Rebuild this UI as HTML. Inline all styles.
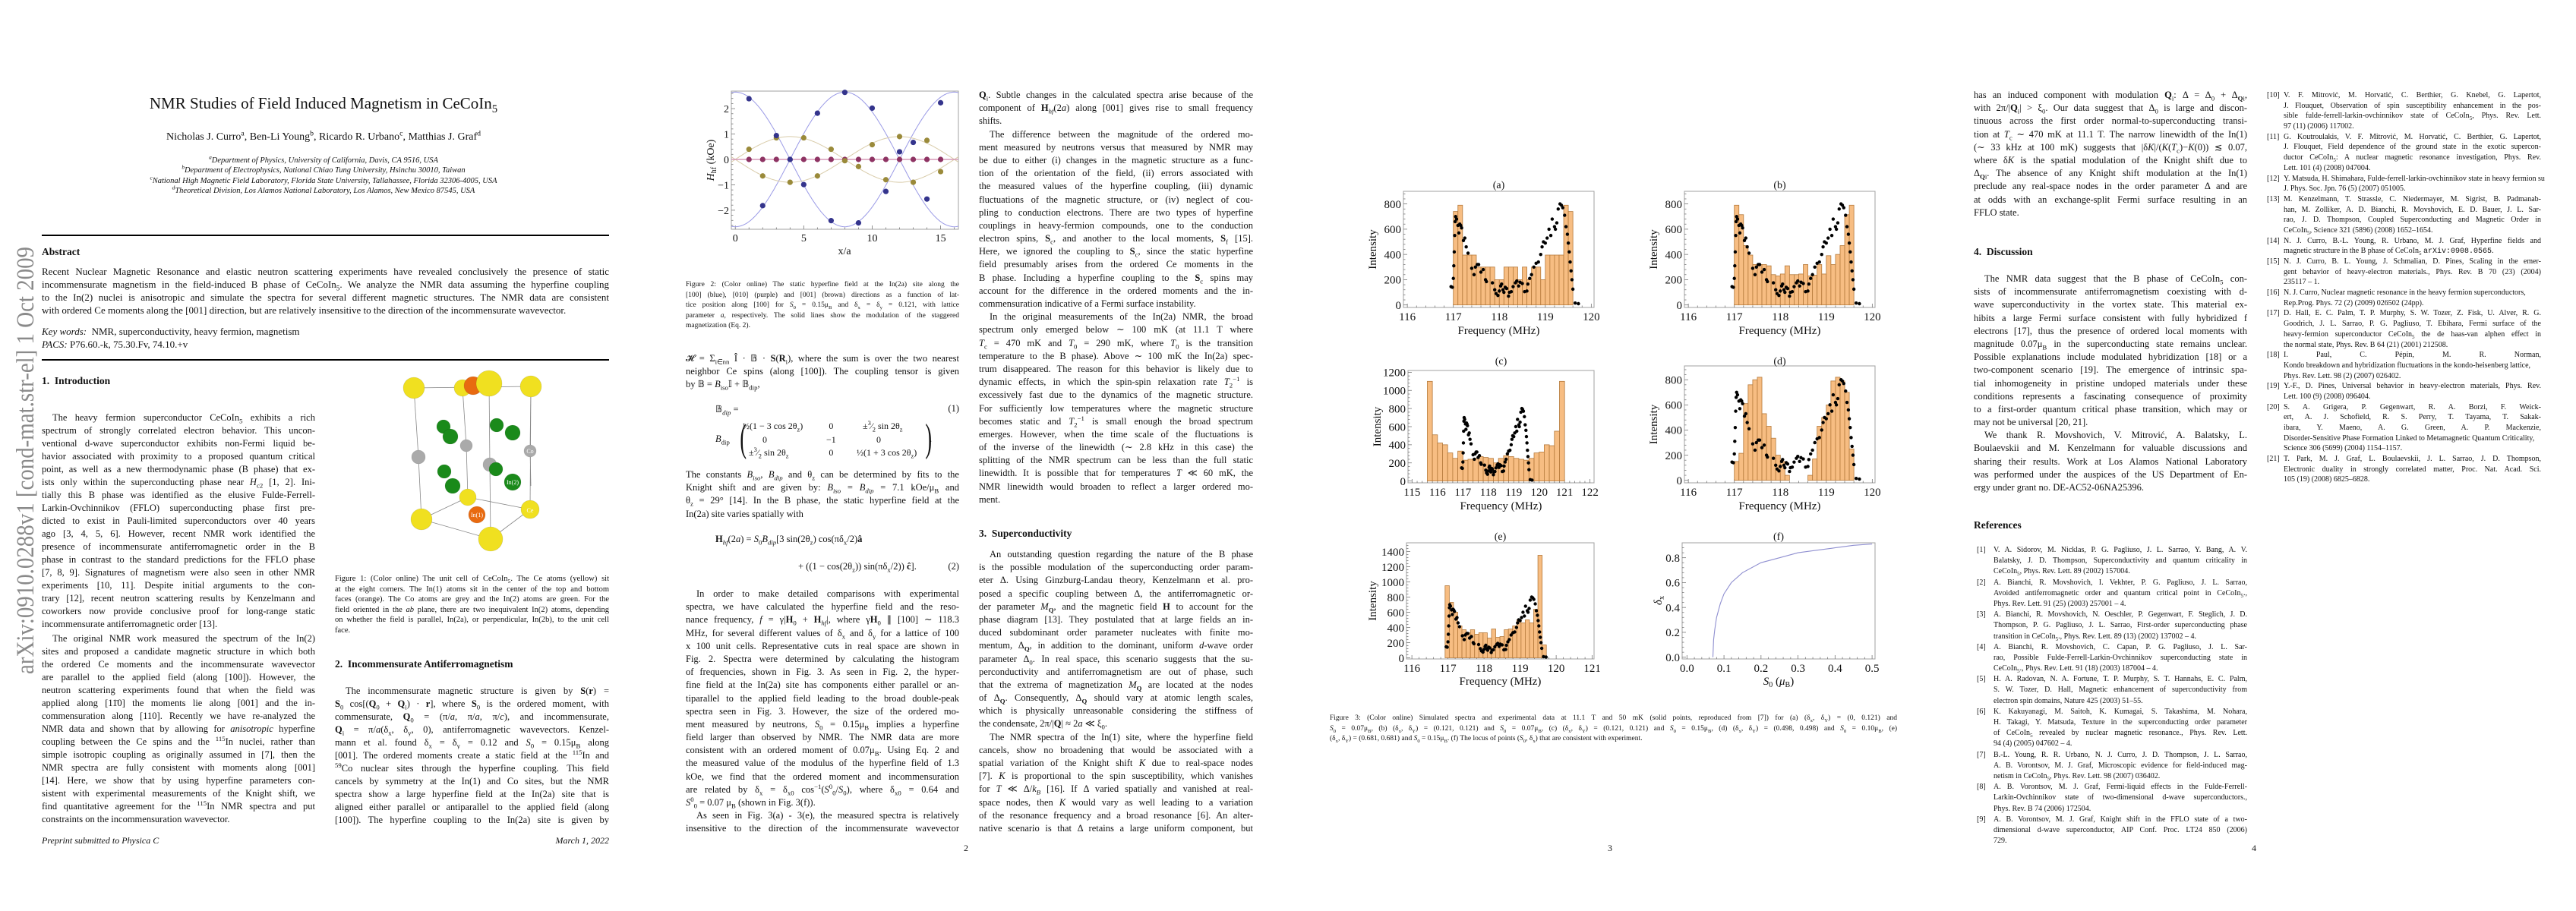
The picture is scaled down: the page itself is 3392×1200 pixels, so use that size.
<!DOCTYPE html>
<html><head><meta charset="utf-8">
<style>
html,body{margin:0;padding:0;background:#fff}
body{width:3392px;height:1200px;position:relative;overflow:hidden;font-family:"Liberation Serif",serif;color:#111}
.pg{position:absolute;top:0;width:848px;height:1200px}
.blk{position:absolute;font-family:"Liberation Serif",serif;color:#111;font-size:12.5px}
.blk>div{height:17px;line-height:17px;white-space:nowrap;text-align:justify;text-align-last:justify;overflow:hidden}
.blk>div.e{text-align-last:left}
.blk>div.i{text-indent:14px}
.b2>div{height:17.2px;line-height:17.2px}
.cap{font-size:10.5px}
.cap>div{height:13.6px;line-height:13.6px}
.ref{font-size:10px}
.ref>div{height:14.2px;line-height:14.2px}
.refr>div{height:13.7px;line-height:13.7px}
.ref>div{padding-left:26px;position:relative}
.ref>div span.n{position:absolute;left:4px}
.h{position:absolute;font-weight:bold;font-size:13.5px;white-space:nowrap}
.rule{position:absolute;height:1.5px;background:#000}
.c{position:absolute;white-space:nowrap;transform:translateX(-50%)}
sub,sup{font-size:70%;line-height:0}
</style></head>
<body>

<svg style="position:absolute;left:0;top:0" width="70" height="1200">
<text x="0" y="0" transform="translate(44,888) rotate(-90)" font-family="Liberation Serif, serif" font-size="33" fill="#8a8a8a" textLength="563" lengthAdjust="spacingAndGlyphs">arXiv:0910.0288v1  [cond-mat.str-el]  1 Oct 2009</text>
</svg>

<!-- PAGE 1 -->
<div class="pg" style="left:0">
<div class="c" style="left:426px;top:124px;font-size:21px">NMR Studies of Field Induced Magnetism in CeCoIn<sub>5</sub></div>
<div class="c" style="left:426px;top:173px;font-size:14px">Nicholas J. Curro<sup>a</sup>, Ben-Li Young<sup>b</sup>, Ricardo R. Urbano<sup>c</sup>, Matthias J. Graf<sup>d</sup></div>
<div class="c" style="left:426px;top:205px;font-size:10.5px;font-style:italic;line-height:13.4px;text-align:center">
<div><sup>a</sup>Department of Physics, University of California, Davis, CA 9516, USA</div>
<div><sup>b</sup>Department of Electrophysics, National Chiao Tung University, Hsinchu 30010, Taiwan</div>
<div><sup>c</sup>National High Magnetic Field Laboratory, Florida State University, Tallahassee, Florida 32306-4005, USA</div>
<div><sup>d</sup>Theoretical Division, Los Alamos National Laboratory, Los Alamos, New Mexico 87545, USA</div>
</div>
<div class="rule" style="left:55px;top:309px;width:747px"></div>
<div class="h" style="left:55px;top:324px">Abstract</div>
<div class="blk" style="left:55px;top:349px;width:747px;font-size:13px">
<div>Recent Nuclear Magnetic Resonance and elastic neutron scattering experiments have revealed conclusively the presence of static</div>
<div>incommensurate magnetism in the field-induced B phase of CeCoIn<sub>5</sub>. We analyze the NMR data assuming the hyperfine coupling</div>
<div>to the In(2) nuclei is anisotropic and simulate the spectra for several different magnetic structures. The NMR data are consistent</div>
<div class="e">with ordered Ce moments along the [001] direction, but are relatively insensitive to the direction of the incommensurate wavevector.</div>
</div>
<div class="blk" style="left:55px;top:428px;width:747px;font-size:13px">
<div class="e"><i>Key words:</i> &nbsp;NMR, superconductivity, heavy fermion, magnetism</div>
<div class="e"><i>PACS:</i> P76.60.-k, 75.30.Fv, 74.10.+v</div>
</div>
<div class="rule" style="left:55px;top:473px;width:747px"></div>
<div class="h" style="left:55px;top:494px">1.&nbsp; Introduction</div>
<div class="blk" style="left:55px;top:542px;width:360px">
<div class="i">The heavy fermion superconductor CeCoIn<sub>5</sub> exhibits a rich</div>
<div>spectrum of strongly correlated electron behavior. This uncon-</div>
<div>ventional d-wave superconductor exhibits non-Fermi liquid be-</div>
<div>havior associated with proximity to a proposed quantum critical</div>
<div>point, as well as a new thermodynamic phase (B phase) that ex-</div>
<div>ists only within the superconducting phase near <i>H</i><sub>c2</sub> [1, 2]. Ini-</div>
<div>tially this B phase was identified as the elusive Fulde-Ferrell-</div>
<div>Larkin-Ovchinnikov (FFLO) superconducting phase first pre-</div>
<div>dicted to exist in Pauli-limited superconductors over 40 years</div>
<div>ago [3, 4, 5, 6]. However, recent NMR work identified the</div>
<div>presence of incommensurate antiferromagnetic order in the B</div>
<div>phase in contrast to the standard predictions for the FFLO phase</div>
<div>[7, 8, 9]. Signatures of magnetism were also seen in other NMR</div>
<div>experiments [10, 11]. Despite initial arguments to the con-</div>
<div>trary [12], recent neutron scattering results by Kenzelmann and</div>
<div>coworkers now provide conclusive proof for long-range static</div>
<div class="e">incommensurate antiferromagnetic order [13].</div>
</div>
<div class="blk" style="left:55px;top:833px;width:360px">
<div class="i">The original NMR work measured the spectrum of the In(2)</div>
<div>sites and proposed a candidate magnetic structure in which both</div>
<div>the ordered Ce moments and the incommensurate wavevector</div>
<div>are parallel to the applied field (along [100]). However, the</div>
<div>neutron scattering experiments found that when the field was</div>
<div>applied along [11̄0] the moments lie along [001] and the in-</div>
<div>commensuration along [110]. Recently we have re-analyzed the</div>
<div>NMR data and shown that by allowing for <i>anisotropic</i> hyperfine</div>
<div>coupling between the Ce spins and the <sup>115</sup>In nuclei, rather than</div>
<div>simple isotropic coupling as originally assumed in [7], then the</div>
<div>NMR spectra are fully consistent with moments along [001]</div>
<div>[14]. Here, we show that by using hyperfine parameters con-</div>
<div>sistent with experimental measurements of the Knight shift, we</div>
<div>find quantitative agreement for the <sup>115</sup>In NMR spectra and put</div>
<div class="e">constraints on the incommensuration wavevector.</div>
</div>
<div class="blk cap" style="left:441px;top:756px;width:361px">
<div>Figure 1: (Color online) The unit cell of CeCoIn<sub>5</sub>. The Ce atoms (yellow) sit</div>
<div>at the eight corners. The In(1) atoms sit in the center of the top and bottom</div>
<div>faces (orange). The Co atoms are grey and the In(2) atoms are green. For the</div>
<div>field oriented in the <i>ab</i> plane, there are two inequivalent In(2) atoms, depending</div>
<div>on whether the field is parallel, In(2a), or perpendicular, In(2b), to the unit cell</div>
<div class="e">face.</div>
</div>
<div class="h" style="left:441px;top:867px">2.&nbsp; Incommensurate Antiferromagnetism</div>
<div class="blk" style="left:441px;top:902px;width:361px">
<div class="i">The incommensurate magnetic structure is given by <b>S</b>(<b>r</b>) =</div>
<div><b>S</b><sub>0</sub> cos[(<b>Q</b><sub>0</sub> + <b>Q</b><sub>i</sub>) · <b>r</b>], where <b>S</b><sub>0</sub> is the ordered moment, with</div>
<div>commensurate, <b>Q</b><sub>0</sub> = (π/<i>a</i>, π/<i>a</i>, π/<i>c</i>), and incommensurate,</div>
<div><b>Q</b><sub>i</sub> = π/<i>a</i>(δ<sub>x</sub>, δ<sub>y</sub>, 0), antiferromagnetic wavevectors. Kenzel-</div>
<div>mann et al. found δ<sub>x</sub> = δ<sub>y</sub> = 0.12 and <i>S</i><sub>0</sub> = 0.15μ<sub>B</sub> along</div>
<div>[001]. The ordered moments create a static field at the <sup>115</sup>In and</div>
<div><sup>59</sup>Co nuclear sites through the hyperfine coupling. This field</div>
<div>cancels by symmetry at the In(1) and Co sites, but the NMR</div>
<div>spectra show a large hyperfine field at the In(2a) site that is</div>
<div>aligned either parallel or antiparallel to the applied field (along</div>
<div>[100]). The hyperfine coupling to the In(2a) site is given by</div>
</div>
<div style="position:absolute;left:55px;top:1100px;font-size:12px;font-style:italic">Preprint submitted to Physica C</div>
<div style="position:absolute;right:46px;top:1100px;font-size:12px;font-style:italic">March 1, 2022</div>
</div>

<!-- PAGE 2 -->
<div class="pg" style="left:848px">
<div class="blk cap" style="left:55px;top:369px;width:360px;font-size:9.5px">
<div>Figure 2: (Color online) The static hyperfine field at the In(2a) site along the</div>
<div>[100] (blue), [010] (purple) and [001] (brown) directions as a function of lat-</div>
<div>tice position along [100] for <i>S</i><sub>0</sub> = 0.15μ<sub>B</sub> and δ<sub>x</sub> = δ<sub>y</sub> = 0.121, with lattice</div>
<div>parameter <i>a</i>, respectively. The solid lines show the modulation of the staggered</div>
<div class="e">magnetization (Eq. 2).</div>
</div>
<div class="blk b2" style="left:55px;top:464px;width:360px">
<div>𝓗 = Σ<sub>i∈nn</sub> Î · 𝔹 · <b>S</b>(<b>R</b><sub>i</sub>), where the sum is over the two nearest</div>
<div>neighbor Ce spins (along [100]). The coupling tensor is given</div>
<div class="e">by 𝔹 = <i>B</i><sub>iso</sub>𝕀 + 𝔹<sub>dip</sub>,</div>
</div>
<div style="position:absolute;left:94px;top:531px;font-size:12.5px">𝔹<sub><i>dip</i></sub> =</div>
<div style="position:absolute;right:433px;top:531px;font-size:12.5px">(1)</div>
<div style="position:absolute;left:94px;top:571px;font-size:12.5px"><i>B</i><sub>dip</sub></div>
<div style="position:absolute;left:122px;top:548px;font-size:52px;line-height:60px;transform:scaleX(0.5);font-weight:100">(</div>
<div style="position:absolute;left:366px;top:548px;font-size:52px;line-height:60px;transform:scaleX(0.5);font-weight:100">)</div>
<div style="position:absolute;left:130px;top:553px;font-size:12px;line-height:17.5px"><div>½(1 − 3 cos 2θ<sub>z</sub>)</div><div style="padding-left:26px">0</div><div style="padding-left:8px">±<sup>3</sup>⁄<sub>2</sub> sin 2θ<sub>z</sub></div></div>
<div style="position:absolute;left:240px;top:553px;font-size:12px;line-height:17.5px;text-align:center"><div>0</div><div>−1</div><div>0</div></div>
<div style="position:absolute;left:280px;top:553px;font-size:12px;line-height:17.5px"><div style="padding-left:8px">±<sup>3</sup>⁄<sub>2</sub> sin 2θ<sub>z</sub></div><div style="padding-left:26px">0</div><div>½(1 + 3 cos 2θ<sub>z</sub>)</div></div>
<div style="position:absolute;left:376px;top:571px;font-size:12.5px">.</div>
<div class="blk b2" style="left:55px;top:617px;width:360px">
<div>The constants <i>B<sub>iso</sub></i>, <i>B<sub>dip</sub></i> and θ<sub>z</sub> can be determined by fits to the</div>
<div>Knight shift and are given by: <i>B<sub>iso</sub></i> = <i>B<sub>dip</sub></i> = 7.1 kOe/μ<sub>B</sub> and</div>
<div>θ<sub>z</sub> = 29° [14]. In the B phase, the static hyperfine field at the</div>
<div class="e">In(2a) site varies spatially with</div>
</div>
<div style="position:absolute;left:94px;top:703px;font-size:12.5px"><b>H</b><sub><i>hf</i></sub>(2<i>a</i>) = <i>S</i><sub>0</sub><i>B<sub>dip</sub></i>[3 sin(2θ<sub>z</sub>) cos(πδ<sub>x</sub>/2)<b>â</b></div>
<div style="position:absolute;left:203px;top:739px;font-size:12.5px">+ ((1 − cos(2θ<sub>z</sub>)) sin(πδ<sub>x</sub>/2)) <b>ĉ</b>].</div>
<div style="position:absolute;right:433px;top:739px;font-size:12.5px">(2)</div>
<div class="blk b2" style="left:55px;top:774px;width:360px">
<div class="i">In order to make detailed comparisons with experimental</div>
<div>spectra, we have calculated the hyperfine field and the reso-</div>
<div>nance frequency, <i>f</i> = γ|<b>H</b><sub>0</sub> + <b>H</b><sub><i>hf</i></sub>|, where γ<b>H</b><sub>0</sub> ∥ [100] ∼ 118.3</div>
<div>MHz, for several different values of δ<sub>x</sub> and δ<sub>y</sub> for a lattice of 100</div>
<div>x 100 unit cells. Representative cuts in real space are shown in</div>
<div>Fig. 2. Spectra were determined by calculating the histogram</div>
<div>of frequencies, shown in Fig. 3. As seen in Fig. 2, the hyper-</div>
<div>fine field at the In(2a) site has components either parallel or an-</div>
<div>tiparallel to the applied field leading to the broad double-peak</div>
<div>spectra seen in Fig. 3. However, the size of the ordered mo-</div>
<div>ment measured by neutrons, <i>S</i><sub>0</sub> = 0.15μ<sub>B</sub> implies a hyperfine</div>
<div>field larger than observed by NMR. The NMR data are more</div>
<div>consistent with an ordered moment of 0.07μ<sub>B</sub>. Using Eq. 2 and</div>
<div>the measured value of the modulus of the hyperfine field of 1.3</div>
<div>kOe, we find that the ordered moment and incommensuration</div>
<div>are related by δ<sub>x</sub> = δ<sub>x0</sub> cos<sup>−1</sup>(<i>S</i><sup>0</sup><sub>0</sub>/<i>S</i><sub>0</sub>), where δ<sub>x0</sub> = 0.64 and</div>
<div class="e"><i>S</i><sup>0</sup><sub>0</sub> = 0.07 μ<sub>B</sub> (shown in Fig. 3(f)).</div>
<div class="i">As seen in Fig. 3(a) - 3(e), the measured spectra is relatively</div>
<div>insensitive to the direction of the incommensurate wavevector</div>
</div>
<div class="blk b2" style="left:441px;top:117px;width:361px">
<div><b>Q</b><sub>i</sub>. Subtle changes in the calculated spectra arise because of the</div>
<div>component of <b>H</b><sub><i>hf</i></sub>(2<i>a</i>) along [001] gives rise to small frequency</div>
<div class="e">shifts.</div>
<div class="i">The difference between the magnitude of the ordered mo-</div>
<div>ment measured by neutrons versus that measured by NMR may</div>
<div>be due to either (i) changes in the magnetic structure as a func-</div>
<div>tion of the orientation of the field, (ii) errors associated with</div>
<div>the measured values of the hyperfine coupling, (iii) dynamic</div>
<div>fluctuations of the magnetic structure, or (iv) neglect of cou-</div>
<div>pling to conduction electrons. There are two types of hyperfine</div>
<div>couplings in heavy-fermion compounds, one to the conduction</div>
<div>electron spins, <b>S</b><sub>c</sub>, and another to the local moments, <b>S</b><sub>f</sub> [15].</div>
<div>Here, we ignored the coupling to <b>S</b><sub>c</sub>, since the static hyperfine</div>
<div>field presumably arises from the ordered Ce moments in the</div>
<div>B phase. Including a hyperfine coupling to the <b>S</b><sub>c</sub> spins may</div>
<div>account for the difference in the ordered moments and the in-</div>
<div class="e">commensuration indicative of a Fermi surface instability.</div>
<div class="i">In the original measurements of the In(2a) NMR, the broad</div>
<div>spectrum only emerged below ∼ 100 mK (at 11.1 T where</div>
<div><i>T</i><sub>c</sub> = 470 mK and <i>T</i><sub>0</sub> = 290 mK, where <i>T</i><sub>0</sub> is the transition</div>
<div>temperature to the B phase). Above ∼ 100 mK the In(2a) spec-</div>
<div>trum disappeared. The reason for this behavior is likely due to</div>
<div>dynamic effects, in which the spin-spin relaxation rate <i>T</i><sub>2</sub><sup>−1</sup> is</div>
<div>excessively fast due to the dynamics of the magnetic structure.</div>
<div>For sufficiently low temperatures where the magnetic structure</div>
<div>becomes static and <i>T</i><sub>2</sub><sup>−1</sup> is small enough the broad spectrum</div>
<div>emerges. However, when the time scale of the fluctuations is</div>
<div>of the inverse of the linewidth (∼ 2.8 kHz in this case) the</div>
<div>splitting of the NMR spectrum can be less than the full static</div>
<div>linewidth. It is possible that for temperatures <i>T</i> ≪ 60 mK, the</div>
<div>NMR linewidth would broaden to reflect a larger ordered mo-</div>
<div class="e">ment.</div>
</div>
<div class="h" style="left:441px;top:695px">3.&nbsp; Superconductivity</div>
<div class="blk b2" style="left:441px;top:722px;width:361px">
<div class="i">An outstanding question regarding the nature of the B phase</div>
<div>is the possible modulation of the superconducting order param-</div>
<div>eter Δ. Using Ginzburg-Landau theory, Kenzelmann et al. pro-</div>
<div>posed a specific coupling between Δ, the antiferromagnetic or-</div>
<div>der parameter <i>M</i><sub><b>Q</b></sub>, and the magnetic field <b>H</b> to account for the</div>
<div>phase diagram [13]. They postulated that at large fields an in-</div>
<div>duced subdominant order parameter nucleates with finite mo-</div>
<div>mentum, Δ<sub><b>Q</b></sub>, in addition to the dominant, uniform <i>d</i>-wave order</div>
<div>parameter Δ<sub>0</sub>. In real space, this scenario suggests that the su-</div>
<div>perconductivity and antiferromagnetism are out of phase, such</div>
<div>that the extrema of magnetization <i>M</i><sub><b>Q</b></sub> are located at the nodes</div>
<div>of Δ<sub><b>Q</b></sub>. Consequently, Δ<sub><b>Q</b></sub> should vary at atomic length scales,</div>
<div>which is physically unreasonable considering the stiffness of</div>
<div class="e">the condensate, 2π/|<b>Q</b>| ≈ 2<i>a</i> ≪ ξ<sub>0</sub>.</div>
<div class="i">The NMR spectra of the In(1) site, where the hyperfine field</div>
<div>cancels, show no broadening that would be associated with a</div>
<div>spatial variation of the Knight shift <i>K</i> due to real-space nodes</div>
<div>[7]. <i>K</i> is proportional to the spin susceptibility, which vanishes</div>
<div>for <i>T</i> ≪ Δ/<i>k<sub>B</sub></i> [16]. If Δ varied spatially and vanished at real-</div>
<div>space nodes, then <i>K</i> would vary as well leading to a variation</div>
<div>of the resonance frequency and a broad resonance [6]. An alter-</div>
<div>native scenario is that Δ retains a large uniform component, but</div>
</div>
<div class="c" style="left:424px;top:1110px;font-size:12px">2</div>
</div>

<!-- PAGE 3 -->
<div class="pg" style="left:1696px">
<div class="blk cap" style="left:55px;top:940px;width:747px;font-size:9.5px">
<div>Figure 3: (Color online) Simulated spectra and experimental data at 11.1 T and 50 mK (solid points, reproduced from [7]) for (a) (δ<sub>x</sub>, δ<sub>Y</sub>) = (0, 0.121) and</div>
<div><i>S</i><sub>0</sub> = 0.07μ<sub>B</sub>, (b) (δ<sub>x</sub>, δ<sub>Y</sub>) = (0.121, 0.121) and <i>S</i><sub>0</sub> = 0.07μ<sub>B</sub>, (c) (δ<sub>x</sub>, δ<sub>Y</sub>) = (0.121, 0.121) and <i>S</i><sub>0</sub> = 0.15μ<sub>B</sub>, (d) (δ<sub>x</sub>, δ<sub>Y</sub>) = (0.498, 0.498) and <i>S</i><sub>0</sub> = 0.10μ<sub>B</sub>, (e)</div>
<div class="e">(δ<sub>x</sub>, δ<sub>Y</sub>) = (0.681, 0.681) and <i>S</i><sub>0</sub> = 0.15μ<sub>B</sub>. (f) The locus of points (<i>S</i><sub>0</sub>, δ<sub>x</sub>) that are consistent with experiment.</div>
</div>
<div class="c" style="left:424px;top:1110px;font-size:12px">3</div>
</div>

<!-- PAGE 4 -->
<div class="pg" style="left:2544px">
<div class="blk b2" style="left:55px;top:117px;width:360px">
<div>has an induced component with modulation <b>Q</b><sub>i</sub>: Δ = Δ<sub>0</sub> + Δ<sub><b>Q</b>i</sub>,</div>
<div>with 2π/|<b>Q</b><sub>i</sub>| &gt; ξ<sub>0</sub>. Our data suggest that Δ<sub>0</sub> is large and discon-</div>
<div>tinuous across the first order normal-to-superconducting transi-</div>
<div>tion at <i>T</i><sub>c</sub> ∼ 470 mK at 11.1 T. The narrow linewidth of the In(1)</div>
<div>(∼ 33 kHz at 100 mK) suggests that |δ<i>K</i>|/(<i>K</i>(<i>T</i><sub>c</sub>)−<i>K</i>(0)) ≲ 0.07,</div>
<div>where δ<i>K</i> is the spatial modulation of the Knight shift due to</div>
<div>Δ<sub><b>Q</b>i</sub>. The absence of any Knight shift modulation at the In(1)</div>
<div>preclude any real-space nodes in the order parameter Δ and are</div>
<div>at odds with an exchange-split Fermi surface resulting in an</div>
<div class="e">FFLO state.</div>
</div>
<div class="h" style="left:55px;top:324px">4.&nbsp; Discussion</div>
<div class="blk b2" style="left:55px;top:359px;width:360px">
<div class="i">The NMR data suggest that the B phase of CeCoIn<sub>5</sub> con-</div>
<div>sists of incommensurate antiferromagnetism coexisting with d-</div>
<div>wave superconductivity in the vortex state. This material ex-</div>
<div>hibits a large Fermi surface consistent with fully hybridized f</div>
<div>electrons [17], thus the presence of ordered local moments with</div>
<div>magnitude 0.07μ<sub>B</sub> in the superconducting state remains unclear.</div>
<div>Possible explanations include modulated hybridization [18] or a</div>
<div>two-component scenario [19]. The emergence of intrinsic spa-</div>
<div>tial inhomogeneity in pristine undoped materials under these</div>
<div>conditions represents a fascinating consequence of proximity</div>
<div>to a first-order quantum critical phase transition, which may or</div>
<div class="e">may not be universal [20, 21].</div>
<div class="i">We thank R. Movshovich, V. Mitrović, A. Balatsky, L.</div>
<div>Boulaevskii and M. Kenzelmann for valuable discussions and</div>
<div>sharing their results. Work at Los Alamos National Laboratory</div>
<div>was performed under the auspices of the US Department of En-</div>
<div class="e">ergy under grant no. DE-AC52-06NA25396.</div>
</div>
<div class="h" style="left:55px;top:684px">References</div>
<div class="blk ref" style="left:55px;top:718px;width:360px">
<div><span class="n">[1]</span>V. A. Sidorov, M. Nicklas, P. G. Pagliuso, J. L. Sarrao, Y. Bang, A. V.</div>
<div>Balatsky, J. D. Thompson, Superconductivity and quantum criticality in</div>
<div class="e">CeCoIn<sub>5</sub>, Phys. Rev. Lett. 89 (2002) 157004.</div>
<div><span class="n">[2]</span>A. Bianchi, R. Movshovich, I. Vekhter, P. G. Pagliuso, J. L. Sarrao,</div>
<div>Avoided antiferromagnetic order and quantum critical point in CeCoIn<sub>5</sub>.,</div>
<div class="e">Phys. Rev. Lett. 91 (25) (2003) 257001 – 4.</div>
<div><span class="n">[3]</span>A. Bianchi, R. Movshovich, N. Oeschler, P. Gegenwart, F. Steglich, J. D.</div>
<div>Thompson, P. G. Pagliuso, J. L. Sarrao, First-order superconducting phase</div>
<div class="e">transition in CeCoIn<sub>5</sub>., Phys. Rev. Lett. 89 (13) (2002) 137002 – 4.</div>
<div><span class="n">[4]</span>A. Bianchi, R. Movshovich, C. Capan, P. G. Pagliuso, J. L. Sar-</div>
<div>rao, Possible Fulde-Ferrell-Larkin-Ovchinnikov superconducting state in</div>
<div class="e">CeCoIn<sub>5</sub>., Phys. Rev. Lett. 91 (18) (2003) 187004 – 4.</div>
<div><span class="n">[5]</span>H. A. Radovan, N. A. Fortune, T. P. Murphy, S. T. Hannahs, E. C. Palm,</div>
<div>S. W. Tozer, D. Hall, Magnetic enhancement of superconductivity from</div>
<div class="e">electron spin domains, Nature 425 (2003) 51–55.</div>
<div><span class="n">[6]</span>K. Kakuyanagi, M. Saitoh, K. Kumagai, S. Takashima, M. Nohara,</div>
<div>H. Takagi, Y. Matsuda, Texture in the superconducting order parameter</div>
<div>of CeCoIn<sub>5</sub> revealed by nuclear magnetic resonance., Phys. Rev. Lett.</div>
<div class="e">94 (4) (2005) 047602 – 4.</div>
<div><span class="n">[7]</span>B.-L. Young, R. R. Urbano, N. J. Curro, J. D. Thompson, J. L. Sarrao,</div>
<div>A. B. Vorontsov, M. J. Graf, Microscopic evidence for field-induced mag-</div>
<div class="e">netism in CeCoIn<sub>5</sub>, Phys. Rev. Lett. 98 (2007) 036402.</div>
<div><span class="n">[8]</span>A. B. Vorontsov, M. J. Graf, Fermi-liquid effects in the Fulde-Ferrell-</div>
<div>Larkin-Ovchinnikov state of two-dimensional d-wave superconductors.,</div>
<div class="e">Phys. Rev. B 74 (2006) 172504.</div>
<div><span class="n">[9]</span>A. B. Vorontsov, M. J. Graf, Knight shift in the FFLO state of a two-</div>
<div>dimensional d-wave superconductor, AIP Conf. Proc. LT24 850 (2006)</div>
<div class="e">729.</div>
</div>
<div class="blk ref refr" style="left:437px;top:119px;width:365px">
<div><span class="n">[10]</span>V. F. Mitrović, M. Horvatić, C. Berthier, G. Knebel, G. Lapertot,</div>
<div>J. Flouquet, Observation of spin susceptibility enhancement in the pos-</div>
<div>sible fulde-ferrell-larkin-ovchinnikov state of CeCoIn<sub>5</sub>, Phys. Rev. Lett.</div>
<div class="e">97 (11) (2006) 117002.</div>
<div><span class="n">[11]</span>G. Koutroulakis, V. F. Mitrović, M. Horvatić, C. Berthier, G. Lapertot,</div>
<div>J. Flouquet, Field dependence of the ground state in the exotic supercon-</div>
<div>ductor CeCoIn<sub>5</sub>: A nuclear magnetic resonance investigation, Phys. Rev.</div>
<div class="e">Lett. 101 (4) (2008) 047004.</div>
<div class="e" style="overflow:visible"><span class="n">[12]</span>Y. Matsuda, H. Shimahara, Fulde-ferrell-larkin-ovchinnikov state in heavy fermion su</div>
<div class="e">J. Phys. Soc. Jpn. 76 (5) (2007) 051005.</div>
<div><span class="n">[13]</span>M. Kenzelmann, T. Strassle, C. Niedermayer, M. Sigrist, B. Padmanab-</div>
<div>han, M. Zolliker, A. D. Bianchi, R. Movshovich, E. D. Bauer, J. L. Sar-</div>
<div>rao, J. D. Thompson, Coupled Superconducting and Magnetic Order in</div>
<div class="e">CeCoIn<sub>5</sub>, Science 321 (5896) (2008) 1652–1654.</div>
<div><span class="n">[14]</span>N. J. Curro, B.-L. Young, R. Urbano, M. J. Graf, Hyperfine fields and</div>
<div class="e">magnetic structure in the B phase of CeCoIn<sub>5</sub> <span style="font-family:'Liberation Mono',monospace">arXiv:0908.0565</span>.</div>
<div><span class="n">[15]</span>N. J. Curro, B. L. Young, J. Schmalian, D. Pines, Scaling in the emer-</div>
<div>gent behavior of heavy-electron materials., Phys. Rev. B 70 (23) (2004)</div>
<div class="e">235117 – 1.</div>
<div class="e"><span class="n">[16]</span>N. J. Curro, Nuclear magnetic resonance in the heavy fermion superconductors,</div>
<div class="e">Rep.Prog. Phys. 72 (2) (2009) 026502 (24pp).</div>
<div><span class="n">[17]</span>D. Hall, E. C. Palm, T. P. Murphy, S. W. Tozer, Z. Fisk, U. Alver, R. G.</div>
<div>Goodrich, J. L. Sarrao, P. G. Pagliuso, T. Ebihara, Fermi surface of the</div>
<div>heavy-fermion superconductor CeCoIn<sub>5</sub> the de haas-van alphen effect in</div>
<div class="e">the normal state, Phys. Rev. B 64 (21) (2001) 212508.</div>
<div><span class="n">[18]</span>I. Paul, C. Pépin, M. R. Norman,</div>
<div class="e">Kondo breakdown and hybridization fluctuations in the kondo-heisenberg lattice,</div>
<div class="e">Phys. Rev. Lett. 98 (2) (2007) 026402.</div>
<div><span class="n">[19]</span>Y.-F., D. Pines, Universal behavior in heavy-electron materials, Phys. Rev.</div>
<div class="e">Lett. 100 (9) (2008) 096404.</div>
<div><span class="n">[20]</span>S. A. Grigera, P. Gegenwart, R. A. Borzi, F. Weick-</div>
<div>ert, A. J. Schofield, R. S. Perry, T. Tayama, T. Sakak-</div>
<div>ibara, Y. Maeno, A. G. Green, A. P. Mackenzie,</div>
<div class="e">Disorder-Sensitive Phase Formation Linked to Metamagnetic Quantum Criticality,</div>
<div class="e">Science 306 (5699) (2004) 1154–1157.</div>
<div><span class="n">[21]</span>T. Park, M. J. Graf, L. Boulaevskii, J. L. Sarrao, J. D. Thompson,</div>
<div>Electronic duality in strongly correlated matter, Proc. Nat. Acad. Sci.</div>
<div class="e">105 (19) (2008) 6825–6828.</div>
</div>
<div class="c" style="left:424px;top:1110px;font-size:12px">4</div>
</div>

<svg id="figs" width="3392" height="1200" style="position:absolute;left:0;top:0;pointer-events:none" font-family="Liberation Serif, serif"></svg>

<script>
// ---------- Figure 2 data ----------
const fig2X = [1,2,3,4,5,6,7,8,9,10,11,12,13,14,15];
const fig2Blue = [2.39,-1.82,0.94,0,-0.99,1.82,-2.41,2.64,-2.5,2.02,-1.26,0.3,0.67,-1.56,2.23];
const fig2Brown = [0.4,-0.65,0.85,-0.9,0.85,-0.65,0.4,-0.05,-0.28,0.58,-0.8,0.9,-0.9,0.75,-0.48];
const fig2Purple = [0,0,0,0,0,0,0,0,0,0,0,0,0,0,0];
const fig2BlueAmp = [2.65];
const fig2BrownAmp = [0.9];
const fig2XTicks = [0,5,10,15];
const fig2YTicks = [-2,-1,0,1,2];

// ---------- Figure 3 data ----------
const barsA = [740,790,395,395,395,300,300,300,300,200,200,300,300,300,200,300,200,300,300,200,395,395,395,395,790,740];
const barsB = [790,715,470,395,320,320,320,310,240,230,245,310,240,240,245,320,230,235,320,245,390,320,400,470,715,790];
const barsC = [1100,510,420,400,310,250,330,230,240,250,270,260,250,200,250,280,270,250,240,230,250,310,320,400,390,550,1100];
const barsD = [150,215,610,760,800,820,530,430,335,200,150,40,0,0,0,0,40,170,430,500,600,790,820,790,700,250];
const barsE = [950,730,600,420,370,330,370,310,330,330,260,380,270,280,370,380,420,500,460,500,460,640,1350,170];
const barStarts = [117.0,117.0,115.6,117.0,116.92];
const barWidths = [0.1,0.1,0.2,0.1,0.117];
const expFreq = [116.95,116.98,117.0,117.01,117.02,117.03,117.04,117.05,117.07,117.1,117.12,117.14,117.16,117.18,117.22,117.25,117.28,117.32,117.4,117.45,117.48,117.52,117.55,117.6,117.65,117.7,117.72,117.85,117.9,117.93,117.97,118.0,118.03,118.05,118.08,118.1,118.13,118.16,118.2,118.22,118.26,118.3,118.35,118.38,118.42,118.45,118.5,118.55,118.6,118.62,118.66,118.7,118.75,118.8,118.85,118.9,118.93,118.96,119.0,119.04,119.08,119.12,119.15,119.2,119.22,119.25,119.28,119.32,119.35,119.38,119.42,119.45,119.48,119.5,119.52,119.54,119.56,119.58,119.6,119.65,119.72];
const expInt = [145,140,210,310,420,550,660,700,680,630,570,640,630,610,510,530,460,410,290,240,300,320,320,260,280,200,185,175,120,90,75,110,150,165,120,100,140,130,70,100,105,145,175,190,150,180,170,105,110,165,210,240,300,330,340,400,460,500,490,530,600,550,680,620,600,650,760,800,790,770,710,620,560,490,420,340,270,200,125,15,10];
const xTicksAB = [116,117,118,119,120];
const xTicksC = [115,116,117,118,119,120,121,122];
const xTicksE = [116,117,118,119,120,121];
const yTicksAB = [0,200,400,600,800];
const yTicksC = [0,200,400,600,800,1000,1200];
const yTicksE = [0,200,400,600,800,1000,1200,1400];
const locusS0 = [0.07,0.072,0.075,0.08,0.09,0.1,0.12,0.15,0.2,0.25,0.3,0.35,0.4,0.45,0.5];
const locusDelta = [0.0,0.14,0.22,0.32,0.43,0.51,0.6,0.68,0.76,0.8,0.84,0.86,0.88,0.9,0.91];
const fXTicks = [0,0.1,0.2,0.3,0.4,0.5];
const fYTicks = [0,0.2,0.4,0.6,0.8];

const NS='http://www.w3.org/2000/svg';
const root=document.getElementById('figs');
function el(tag,parent){const e=document.createElementNS(NS,tag);parent.appendChild(e);return e;}
function at(e,o){for(const k in o)e.setAttribute(k,o[k]);return e;}
function txt(parent,x,y,s,size,anchor,extra){const t=el('text',parent);at(t,{x:x,y:y,'font-size':size,'text-anchor':anchor||'middle',fill:'#111'});if(extra)at(t,extra);t.textContent=s;return t;}

function axes(g,P,xt,yt,fmtX,fmtY,tickFont){
  const sx=v=>P.x0+(v-P.xmin)/(P.xmax-P.xmin)*(P.x1-P.x0);
  const sy=v=>P.y1-(v-P.ymin)/(P.ymax-P.ymin)*(P.y1-P.y0);
  const fr=el('rect',g);at(fr,{x:P.x0,y:P.y0,width:P.x1-P.x0,height:P.y1-P.y0,fill:'none',stroke:'#a0a0a0','stroke-width':1});
  
  
  const xs=(xt[1]-xt[0])/5, ys=(yt[1]-yt[0])/5;
  for(let v=xt[0]-5*xs; v<=xt[xt.length-1]+5*xs+1e-9; v+=xs){
    if(v<P.xmin||v>P.xmax)continue;
    const major=xt.some(t=>Math.abs(t-v)<1e-6);
    const l=el('line',g);at(l,{x1:sx(v),x2:sx(v),y1:P.y1,y2:P.y1-(major?5:2.5),stroke:'#777','stroke-width':0.8});
    
    
  }
  for(let v=yt[0]-5*ys; v<=yt[yt.length-1]+5*ys+1e-9; v+=ys){
    if(v<P.ymin||v>P.ymax)continue;
    const major=yt.some(t=>Math.abs(t-v)<1e-6);
    const l=el('line',g);at(l,{x1:P.x0,x2:P.x0+(major?5:2.5),y1:sy(v),y2:sy(v),stroke:'#777','stroke-width':0.8});
    
    
  }
  xt.forEach(v=>{const t=txt(g,sx(v),P.y1+tickFont+2,fmtX(v),tickFont);
    
    });
  yt.forEach(v=>{const t=txt(g,P.x0-3,sy(v)+tickFont*0.35,fmtY(v),tickFont,'end');
    
    });
  return {sx,sy};
}

// ---------- Figure 2 ----------
(function(){
  const g=el('g',root);
  
  
  const P={x0:963,x1:1262,y0:120,y1:302,xmin:-0.29,xmax:16.3,ymin:-2.75,ymax:2.69};
  const {sx,sy}=axes(g,P,fig2XTicks,fig2YTicks,v=>String(v),v=>v<0?'−'+(-v):String(v),14);
  function curve(amp,fn,color,name){
    let d='';
    for(let i=0;i<=160;i++){const x=P.xmin+(P.xmax-P.xmin)*i/160;const y=amp*fn(2*Math.PI*x/16);d+=(i?'L':'M')+sx(x).toFixed(1)+','+sy(y).toFixed(1);}
    const p=el('path',g);at(p,{d:d,fill:'none',stroke:color,'stroke-width':1});
    
    
  }
  curve(fig2BlueAmp[0],Math.cos,'#9a9ae6','blue-curve-upper');
  curve(-fig2BlueAmp[0],Math.cos,'#9a9ae6','blue-curve-lower');
  curve(fig2BrownAmp[0],Math.sin,'#d9ccaa','brown-curve-upper');
  curve(-fig2BrownAmp[0],Math.sin,'#d9ccaa','brown-curve-lower');
  const pl=el('line',g);at(pl,{x1:P.x0,x2:P.x1,y1:sy(0),y2:sy(0),stroke:'#d79ab8','stroke-width':1.4});
  
  
  function pts(vals,color,name){
    vals.forEach((v,i)=>{const c=el('circle',g);at(c,{cx:sx(fig2X[i]),cy:sy(v),r:3.6,fill:color});
      
      });
  }
  pts(fig2Purple,'#8e3363','purple-point');
  pts(fig2Brown,'#9a8a3a','brown-point');
  pts(fig2Blue,'#34348c','blue-point');
  const xl=txt(g,1112,335,'x/a',14);
  
  
  const yl=txt(g,0,0,'',14,'middle',{transform:'translate(940,211) rotate(-90)'});
  yl.innerHTML='<tspan font-style="italic">H</tspan><tspan font-size="10" dy="3">hf</tspan><tspan dy="-3"> (kOe)</tspan>';
  
  
})();

// ---------- Figure 3 ----------
const panels=[
 {id:'a',bars:barsA,k:0,P:{x0:1848,x1:2099,y0:252,y1:405,xmin:115.915,xmax:120.06,ymin:-20,ymax:900},xt:xTicksAB,yt:yTicksAB,ty:243,ly:440,ylx:1812},
 {id:'b',bars:barsB,k:1,P:{x0:2218,x1:2469,y0:252,y1:405,xmin:115.915,xmax:120.06,ymin:-20,ymax:900},xt:xTicksAB,yt:yTicksAB,ty:243,ly:440,ylx:2182},
 {id:'c',bars:barsC,k:2,P:{x0:1854,x1:2099,y0:488,y1:636,xmin:114.84,xmax:122.16,ymin:-20,ymax:1220},xt:xTicksC,yt:yTicksC,ty:475,ly:671,ylx:1818},
 {id:'d',bars:barsD,k:3,P:{x0:2218,x1:2469,y0:482,y1:636,xmin:115.915,xmax:120.06,ymin:-20,ymax:910},xt:xTicksAB,yt:yTicksAB,ty:475,ly:671,ylx:2182},
 {id:'e',bars:barsE,k:4,P:{x0:1852,x1:2099,y0:715,y1:868,xmin:115.85,xmax:121.05,ymin:-15,ymax:1515},xt:xTicksE,yt:yTicksE,ty:706,ly:902,ylx:1812}
];
panels.forEach(pn=>{
  const g=el('g',root);
  
  
  const {sx,sy}=axes(g,pn.P,pn.xt,pn.yt,v=>String(v),v=>String(v),15);
  pn.bars.forEach((v,i)=>{
    if(v<=0)return;
    const x0=barStarts[pn.k]+i*barWidths[pn.k];
    const r=el('rect',g);at(r,{x:sx(x0),y:sy(v),width:sx(x0+barWidths[pn.k])-sx(x0),height:sy(0)-sy(v),fill:'#f7bd82',stroke:'#b57a3c','stroke-width':0.8});
    
    
  });
  expFreq.forEach((f,i)=>{
    const c=el('circle',g);at(c,{cx:sx(f),cy:sy(expInt[i]),r:2.2,fill:'#000'});
    
    
  });
  const t=txt(g,(pn.P.x0+pn.P.x1)/2,pn.ty+5,'('+pn.id+')',14);
  
  
  const xl=txt(g,(pn.P.x0+pn.P.x1)/2,pn.ly,'Frequency (MHz)',15);
  
  
  const yl=txt(g,0,0,'Intensity',15,'middle',{transform:'translate('+pn.ylx+','+((pn.P.y0+pn.P.y1)/2)+') rotate(-90)'});
  
  
});
(function(){
  const g=el('g',root);
  
  
  const P={x0:2215,x1:2469,y0:715,y1:868,xmin:-0.013,xmax:0.508,ymin:-0.014,ymax:0.92};
  const {sx,sy}=axes(g,P,fXTicks,fYTicks,v=>v.toFixed(1),v=>v.toFixed(1),15);
  let d='';locusS0.forEach((s,i)=>{d+=(i?'L':'M')+sx(s).toFixed(1)+','+sy(locusDelta[i]).toFixed(1);});
  const p=el('path',g);at(p,{d:d,fill:'none',stroke:'#8f8fd0','stroke-width':1.1});
  
  
  const t=txt(g,2342,711,'(f)',14);
  
  
  const xl=txt(g,2342,902,'',15);
  xl.innerHTML='<tspan font-style="italic">S</tspan><tspan font-size="10" dy="3">0</tspan><tspan dy="-3"> (</tspan><tspan font-style="italic">μ</tspan><tspan font-size="10" dy="3">B</tspan><tspan dy="-3">)</tspan>';
  
  
  const yl=txt(g,0,0,'',15,'middle',{transform:'translate(2188,791) rotate(-90)'});
  yl.innerHTML='<tspan font-style="italic">δ</tspan><tspan font-size="10" dy="3">x</tspan>';
  
  
})();

// ---------- Figure 1 crystal ----------
(function(){
  const g=el('g',root);
  
  
  const lines=[[545,511,699,509],[545,511,551,602],[609,511,614,587],[644,505,645,612],[699,509,698,594],[551,602,555,684],[699,509,698,671],[614,587,616,655],[555,684,646,710],[646,710,698,671],[555,684,616,655],[616,655,698,671],[645,612,646,710],[698,594,699,640]];
  lines.forEach(L=>{const l=el('line',g);at(l,{x1:L[0],y1:L[1],x2:L[2],y2:L[3],stroke:'#888','stroke-width':0.8});
    
    });
  const atoms=[[551,602,9,'#aaa','Co atom'],[614,587,8,'#aaa','Co atom'],[698,594,8,'#aaa','Co atom'],[645,612,9,'#aaa','Co atom'],
   [584,562,9,'#1a8a1a','In2 atom'],[593,575,10,'#1a8a1a','In2 atom'],[654,560,9,'#1a8a1a','In2 atom'],[675,570,10,'#1a8a1a','In2 atom'],
   [585,621,9,'#1a8a1a','In2 atom'],[596,640,10,'#1a8a1a','In2 atom'],[653,618,9,'#1a8a1a','In2 atom'],[675,635,11,'#1a8a1a','In2 atom'],
   [545,511,14,'#f0e020','Ce atom'],[609,511,11,'#f0e020','Ce atom'],[623,508,12,'#e86a10','In1 atom'],[644,505,17,'#f0e020','Ce atom'],[699,509,14,'#f0e020','Ce atom'],
   [616,655,11,'#f0e020','Ce atom'],[698,671,12,'#f0e020','Ce atom'],[628,678,11,'#e86a10','In1 atom'],[555,684,14,'#f0e020','Ce atom'],[646,710,16,'#f0e020','Ce atom']];
  atoms.forEach(A=>{const c=el('circle',g);at(c,{cx:A[0],cy:A[1],r:A[2],fill:A[3],stroke:'rgba(0,0,0,0.15)','stroke-width':0.6});
    
    });
  [[698,675,'Ce'],[628,681,'In(1)'],[675,638,'In(2)'],[698,597,'Co']].forEach(L=>{const t=txt(g,L[0],L[1],L[2],8,'middle',{fill:'#fff'});
    
    });
})();
</script>
</body></html>
